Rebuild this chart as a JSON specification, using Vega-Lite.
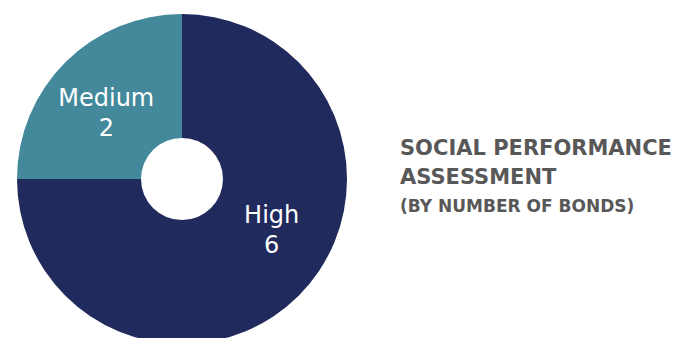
{
  "$schema": "https://vega.github.io/schema/vega-lite/v6.json",
  "width": 364,
  "height": 358,
  "padding": 0,
  "autosize": {"type": "pad"},
  "background": "white",
  "view": {"stroke": null},
  "title": {
    "text": ["SOCIAL PERFORMANCE", "ASSESSMENT"],
    "subtitle": "(BY NUMBER OF BONDS)",
    "orient": "top",
    "anchor": "start",
    "frame": "group",
    "offset": 0,
    "dx": 400,
    "dy": 215,
    "font": "DejaVu Sans",
    "fontSize": 21,
    "fontWeight": 700,
    "color": "#585858",
    "lineHeight": 29,
    "subtitleFont": "DejaVu Sans",
    "subtitleFontSize": 17,
    "subtitleFontWeight": 700,
    "subtitleColor": "#585858",
    "subtitlePadding": 11
  },
  "data": {
    "values": [
      {"category": "High", "count": 6},
      {"category": "Medium", "count": 2}
    ]
  },
  "encoding": {
    "theta": {"field": "count", "type": "quantitative", "stack": true},
    "order": {"field": "category", "type": "nominal"}
  },
  "layer": [
    {
      "mark": {"type": "arc", "outerRadius": 165, "innerRadius": 41},
      "encoding": {
        "color": {
          "field": "category",
          "type": "nominal",
          "scale": {"domain": ["High", "Medium"], "range": ["#212a5c", "#43899b"]},
          "legend": null
        }
      }
    },
    {
      "transform": [{"calculate": "datum.category + '\\n' + datum.count", "as": "label"}],
      "mark": {
        "type": "text",
        "radius": {"expr": "datum.category === 'High' ? 97 : 110"},
        "thetaOffset": {"expr": "datum.category === 'High' ? -0.394 : 0.026"},
        "lineBreak": "\n",
        "lineHeight": 30,
        "font": "DejaVu Sans",
        "fontSize": 24,
        "fontWeight": 400,
        "fill": "white",
        "align": "center",
        "baseline": "middle"
      },
      "encoding": {
        "text": {"field": "label", "type": "nominal"}
      }
    }
  ]
}
